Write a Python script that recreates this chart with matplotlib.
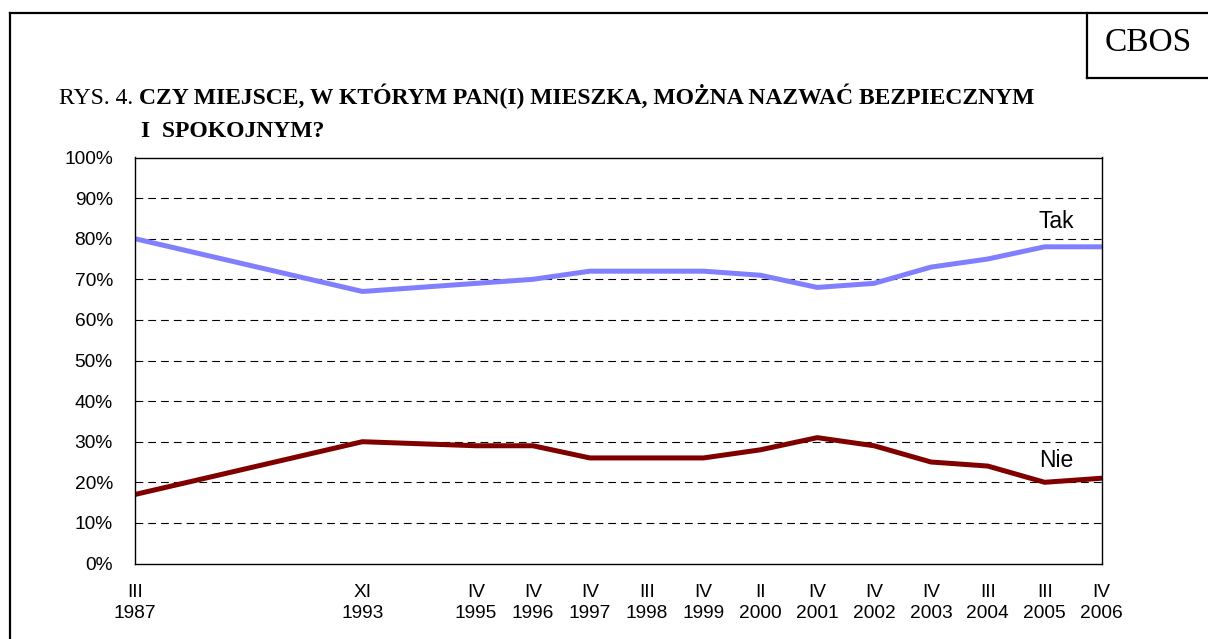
import matplotlib.pyplot as plt
from matplotlib.lines import Line2D
from matplotlib.ticker import FuncFormatter

# survey waves (category index on an Excel-like axis with gaps)
pos = [0, 4, 6, 7, 8, 9, 10, 11, 12, 13, 14, 15, 16, 17]
months = ['III', 'XI', 'IV', 'IV', 'IV', 'III', 'IV', 'II', 'IV', 'IV', 'IV', 'III', 'III', 'IV']
years = ['1987', '1993', '1995', '1996', '1997', '1998', '1999', '2000',
         '2001', '2002', '2003', '2004', '2005', '2006']

tak = [80, 67, 69, 70, 72, 72, 72, 71, 68, 69, 73, 75, 78, 78]
nie = [17, 30, 29, 29, 26, 26, 26, 28, 31, 29, 25, 24, 20, 21]

W, H = 1208, 639
fig = plt.figure(figsize=(W / 100, H / 100), dpi=100)

# outer frame and CBOS box
fig.add_artist(Line2D([10 / W, 1.0], [1 - 12.5 / H, 1 - 12.5 / H], color='black', lw=1.6))
fig.add_artist(Line2D([10 / W, 10 / W], [0, 1 - 12.5 / H], color='black', lw=1.6))
fig.add_artist(Line2D([1086.5 / W, 1086.5 / W], [1 - 12.5 / H, 1 - 77.5 / H], color='black', lw=1.6))
fig.add_artist(Line2D([1086.5 / W, 1.0], [1 - 77.5 / H, 1 - 77.5 / H], color='black', lw=1.6))
fig.text(1148 / W, 1 - 43 / H, 'CBOS', ha='center', va='center',
         family='Liberation Serif', fontsize=24)

# title
t = fig.text(59 / W, 1 - 104 / H, 'RYS. 4. ', ha='left', va='baseline',
             family='Liberation Serif', fontsize=17)
fig.canvas.draw()
bb = t.get_window_extent()
fig.text(bb.x1 / W, 1 - 104 / H, 'CZY MIEJSCE, W KTÓRYM PAN(I) MIESZKA, MOŻNA NAZWAĆ BEZPIECZNYM',
         ha='left', va='baseline', family='Liberation Serif', fontsize=17, fontweight='bold')
fig.text(141 / W, 1 - 137 / H, 'I  SPOKOJNYM?', ha='left', va='baseline',
         family='Liberation Serif', fontsize=17, fontweight='bold')

ax = fig.add_axes([135 / W, 1 - 563.5 / H, (1101.5 - 135) / W, (563.5 - 157.5) / H])
ax.plot(pos, tak, color='#8080ff', lw=3.6, solid_joinstyle='round')
ax.plot(pos, nie, color='#800000', lw=3.6, solid_joinstyle='round')

ax.text(16.2, 84.2, 'Tak', ha='center', va='center', family='Liberation Sans', fontsize=16.5)
ax.text(16.2, 25.4, 'Nie', ha='center', va='center', family='Liberation Sans', fontsize=16.5)

ax.set_xlim(0, 17)
ax.set_ylim(0, 100)
ax.set_yticks(range(0, 101, 10))
ax.yaxis.set_major_formatter(FuncFormatter(lambda v, p: '%d%%' % v))
ax.set_xticks(pos)
ax.set_xticklabels([m + '\n' + y for m, y in zip(months, years)], linespacing=1.3)
for lab in ax.get_xticklabels() + ax.get_yticklabels():
    lab.set_family('Liberation Sans')
    lab.set_fontsize(13.8)
ax.tick_params(axis='both', length=0)
ax.tick_params(axis='y', pad=16)
ax.tick_params(axis='x', pad=14.5)

for v in range(10, 100, 10):
    ax.axhline(v, color='black', lw=0.8, linestyle=(0, (7, 4.5)), zorder=0)

for s in ax.spines.values():
    s.set_linewidth(1.0)
    s.set_color('black')

plt.savefig('out.png', dpi=100)
